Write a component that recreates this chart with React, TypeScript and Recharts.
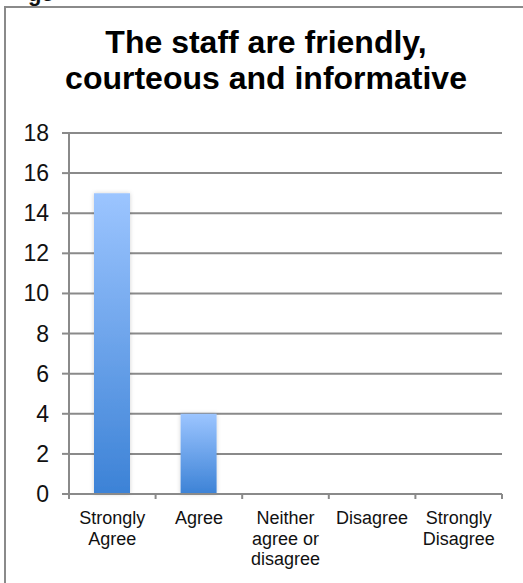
import { Bar, BarChart, CartesianGrid, XAxis, YAxis } from "recharts";

const categories = ["Strongly\nAgree", "Agree", "Neither\nagree or\ndisagree", "Disagree", "Strongly\nDisagree"];
const responses = [15, 4, 0, 0, 0];
const yTicks = [0, 2, 4, 6, 8, 10, 12, 14, 16, 18];

const titleLines = ["The staff are friendly,", "courteous and informative"];

const data = categories.map((name, i) => ({ name, count: responses[i] }));

const font = "'Liberation Sans', Arial, Helvetica, sans-serif";
const gray = "#8a8a8a";

function CategoryTick(props: any) {
  const { x, y, payload, index } = props;
  const half = payload?.offset ?? 0;
  const lines = String(payload.value).split("\n");
  return (
    <g>
      <line x1={x - half} x2={x - half} y1={y} y2={y + 5} stroke={gray} strokeWidth={2} />
      {index === categories.length - 1 && (
        <line x1={x + half} x2={x + half} y1={y} y2={y + 5} stroke={gray} strokeWidth={2} />
      )}
      <text x={x} y={y + 30} textAnchor="middle" fontSize={18} fill="#111" fontFamily={font}>
        {lines.map((line, i) => (
          <tspan key={line} x={x} dy={i === 0 ? 0 : 20.5}>
            {line}
          </tspan>
        ))}
      </text>
    </g>
  );
}

function ValueTick(props: any) {
  const { x, y, payload } = props;
  return (
    <text x={x} y={y} dy={8} textAnchor="end" fontSize={23} fill="#111" fontFamily={font}>
      {payload.value}
    </text>
  );
}

export default function App() {
  return (
    <div style={{ position: "absolute", left: 0, top: 0, width: 523, height: 583, overflow: "hidden", background: "#fff", fontFamily: font }}>
      {/* clipped caption from the page above */}
      <div style={{ position: "absolute", left: 28, top: -19, fontSize: 22, fontWeight: "bold", color: "#111" }}>ge</div>
      <div
        style={{
          position: "absolute",
          left: 4,
          top: 6,
          width: 560,
          height: 620,
          borderLeft: `2px solid ${gray}`,
          borderTop: `2px solid ${gray}`,
          boxSizing: "border-box"
        }}
      />
      <div
        style={{
          position: "absolute",
          left: 0,
          top: 24,
          width: 532,
          textAlign: "center",
          fontSize: 32,
          fontWeight: "bold",
          lineHeight: "36px",
          color: "#000"
        }}
      >
        {titleLines.map((line) => (
          <div key={line}>{line}</div>
        ))}
      </div>
      <div style={{ position: "absolute", left: 0, top: 0 }}>
        <BarChart width={523} height={583} data={data} margin={{ top: 133, right: 21, bottom: 0, left: 0 }}>
          <defs>
            <linearGradient id="barGrad" x1="0" y1="0" x2="0" y2="1">
              <stop offset="0%" stopColor="#9cc5ff" />
              <stop offset="100%" stopColor="#3c82d6" />
            </linearGradient>
            <filter id="barShadow" x="-30%" y="-5%" width="160%" height="110%">
              <feDropShadow dx="0" dy="0" stdDeviation="2" floodColor="#000" floodOpacity="0.18" />
            </filter>
          </defs>
          <CartesianGrid vertical={false} stroke={gray} strokeWidth={2} />
          <XAxis
            dataKey="name"
            height={89}
            interval={0}
            tickSize={0}
            tickMargin={0}
            tickLine={false}
            axisLine={{ stroke: gray, strokeWidth: 2 }}
            tick={<CategoryTick />}
          />
          <YAxis
            width={69}
            domain={[0, 18]}
            ticks={yTicks}
            interval={0}
            tickSize={7}
            tickMargin={13}
            axisLine={{ stroke: gray, strokeWidth: 2 }}
            tickLine={{ stroke: gray, strokeWidth: 2 }}
            tick={<ValueTick />}
          />
          <Bar dataKey="count" fill="url(#barGrad)" barSize={36} filter="url(#barShadow)" isAnimationActive={false} />
        </BarChart>
      </div>
    </div>
  );
}
